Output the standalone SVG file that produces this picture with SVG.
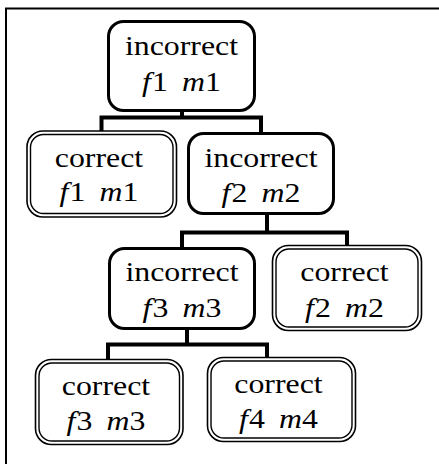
<svg xmlns="http://www.w3.org/2000/svg" width="439" height="464" viewBox="0 0 439 464">
<style>
.bg{fill:#fff}
.frame{fill:none;stroke:#000;stroke-width:2}
.single{fill:#fff;stroke:#000;stroke-width:3}
.dbl{fill:#fff;stroke:#000;stroke-width:1.6}
.dbl2{fill:none;stroke:#000;stroke-width:1.4}
.conn{fill:none;stroke:#000;stroke-width:4;stroke-linecap:square}
text{font-family:"Liberation Serif","Times New Roman",serif;font-size:27px;fill:#000;text-anchor:middle}
.it{font-style:italic}
</style>
<rect class="bg" x="0" y="0" width="439" height="464"/>
<path class="frame" d="M6,470 V8.5 H445"/>
<g id="connectors">
<path class="conn" d="M182,112 V117.5 M101.5,130 V117.5 H261 V132"/>
<path class="conn" d="M267,215 V232.5 M182,247 V232.5 H347 V245"/>
<path class="conn" d="M187,330 V344.5 M108,359 V344.5 H267 V357"/>
</g>
<g id="n1">
<rect class="single" x="108.5" y="21.5" width="146" height="89" rx="15"/>
<g transform="translate(181.5,0) scale(1.18,1)"><text x="0" y="55">incorrect</text><text x="0" y="91"><tspan class="it">f</tspan><tspan dx="1">1</tspan><tspan class="it" dx="12">m</tspan>1</text></g>
</g>
<g id="n2">
<rect class="dbl" x="27" y="131" width="149.5" height="86" rx="16"/>
<rect class="dbl2" x="30.5" y="134.5" width="142.5" height="79" rx="13"/>
<g transform="translate(99,0) scale(1.18,1)"><text x="0" y="167">correct</text><text x="0" y="201"><tspan class="it">f</tspan><tspan dx="1">1</tspan><tspan class="it" dx="12">m</tspan>1</text></g>
</g>
<g id="n3">
<rect class="single" x="188.5" y="133.5" width="145" height="80" rx="15"/>
<g transform="translate(261,0) scale(1.18,1)"><text x="0" y="167">incorrect</text><text x="0" y="202"><tspan class="it">f</tspan><tspan dx="1">2</tspan><tspan class="it" dx="12">m</tspan>2</text></g>
</g>
<g id="n4">
<rect class="single" x="109.5" y="248.5" width="145" height="80" rx="15"/>
<g transform="translate(182,0) scale(1.18,1)"><text x="0" y="281">incorrect</text><text x="0" y="317"><tspan class="it">f</tspan><tspan dx="1">3</tspan><tspan class="it" dx="12">m</tspan>3</text></g>
</g>
<g id="n5">
<rect class="dbl" x="272.5" y="245.5" width="149" height="85" rx="16"/>
<rect class="dbl2" x="276" y="249" width="142" height="78" rx="13"/>
<g transform="translate(344.5,0) scale(1.18,1)"><text x="0" y="281">correct</text><text x="0" y="317"><tspan class="it">f</tspan><tspan dx="1">2</tspan><tspan class="it" dx="12">m</tspan>2</text></g>
</g>
<g id="n6">
<rect class="dbl" x="35.5" y="359.5" width="147.5" height="85" rx="16"/>
<rect class="dbl2" x="39" y="363" width="140.5" height="78" rx="13"/>
<g transform="translate(106,0) scale(1.18,1)"><text x="0" y="395">correct</text><text x="0" y="430"><tspan class="it">f</tspan><tspan dx="1">3</tspan><tspan class="it" dx="12">m</tspan>3</text></g>
</g>
<g id="n7">
<rect class="dbl" x="207.5" y="357.5" width="148" height="84" rx="16"/>
<rect class="dbl2" x="211" y="361" width="141" height="77" rx="13"/>
<g transform="translate(278.5,0) scale(1.18,1)"><text x="0" y="393">correct</text><text x="0" y="428"><tspan class="it">f</tspan><tspan dx="1">4</tspan><tspan class="it" dx="12">m</tspan>4</text></g>
</g>
</svg>
